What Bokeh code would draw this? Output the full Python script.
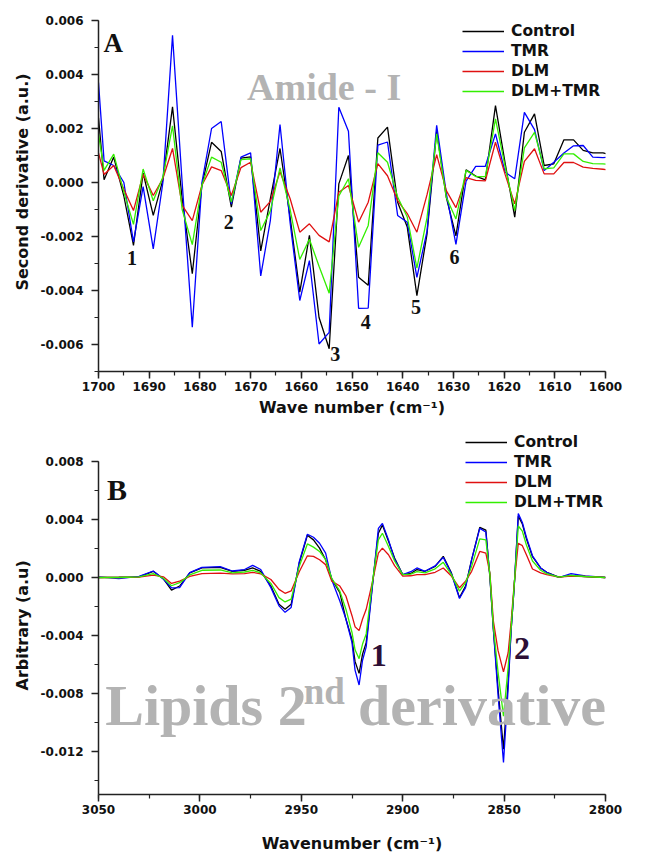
import numpy as np
from bokeh.plotting import figure
from bokeh.models import (Range1d, SingleIntervalTicker, PrintfTickFormatter, Label,
                          Legend, LegendItem, Title)
from bokeh.layouts import column
from bokeh.embed import file_html
from bokeh.resources import INLINE

# ---------------- data (values in units of 1e-3) ----------------
SCALE = 1e-3
series_names = ["Control", "TMR", "DLM", "DLM+TMR"]
series_colors = ["#000000", "#0000ff", "#e01010", "#33ee00"]

# Panel A: Amide-I second derivative
wave_a = [1700.0, 1698.9, 1697.0, 1695.0, 1693.1, 1691.2, 1689.2, 1687.3, 1685.4, 1683.5,
          1681.5, 1679.6, 1677.7, 1675.8, 1673.8, 1671.9, 1670.0, 1668.0, 1666.1, 1664.2,
          1662.2, 1660.3, 1658.4, 1656.5, 1654.5, 1652.6, 1650.7, 1648.7, 1646.8, 1644.9,
          1643.0, 1641.0, 1639.1, 1637.2, 1635.2, 1633.3, 1631.4, 1629.5, 1627.5, 1625.6,
          1623.7, 1621.7, 1619.8, 1617.9, 1616.0, 1614.0, 1612.1, 1610.2, 1608.2, 1606.3,
          1604.4, 1602.5, 1600.5, 1598.6]
control_a = [2.4, 0.1, 0.94, -0.5, -2.33, 0.35, -1.22, 0.1, 2.8, -0.6,
             -3.38, -0.1, 1.49, 1.15, -0.91, 0.9, 0.95, -2.53, -0.6, 1.26,
             -1.3, -4.06, -1.96, -5.0, -6.16, -0.05, 1.0, -3.51, -3.81, 1.65,
             2.05, -0.73, -1.65, -4.19, -1.9, 1.9, -0.55, -1.98, 0.47, 0.24,
             0.1, 2.85, 0.72, -1.28, 1.86, 2.54, 0.63, 0.69, 1.58, 1.58,
             1.19, 1.1, 1.1, 1.0]
tmr_a = [3.7, 0.8, 0.63, 0.0, -2.2, -0.15, -2.46, 0.0, 5.45, 0.0,
         -5.36, 0.0, 2.0, 2.26, -0.8, 0.94, 1.1, -3.46, -1.4, 2.15,
         -1.5, -4.37, -2.89, -5.98, -5.55, 2.79, 1.9, -4.66, -4.65, 1.38,
         1.5, -1.22, -1.47, -3.51, -1.8, 2.12, -0.4, -2.29, 0.05, 0.6,
         0.6, 1.8, 0.38, 0.14, 2.6, 1.96, 0.44, 0.75, 1.09, 1.36,
         1.37, 0.94, 0.92, 0.95]
dlm_a = [1.1, 0.3, 0.63, -0.25, -1.04, 0.3, -0.48, 0.15, 1.26, -0.85,
         -1.41, -0.1, 0.58, 0.44, -0.48, 0.55, 0.75, -1.1, -0.7, 0.4,
         -0.6, -1.84, -1.53, -1.96, -2.2, -0.36, -0.11, -1.47, -0.73, 0.7,
         0.25, -0.67, -1.15, -1.84, -0.45, 1.03, -0.3, -0.93, 0.18, 0.08,
         0.06, 1.49, 0.3, -0.79, 0.78, 1.25, 0.32, 0.32, 0.74, 0.74,
         0.57, 0.52, 0.49, 0.45]
dlm_tmr_a = [1.8, 0.45, 1.05, -0.35, -1.55, 0.5, -0.68, 0.2, 2.1, -1.0,
             -2.3, -0.1, 0.94, 0.75, -0.73, 0.85, 0.88, -1.78, -1.05, 0.54,
             -1.0, -2.85, -2.1, -3.1, -4.1, -0.5, 0.14, -2.4, -1.59, 1.1,
             0.75, -0.54, -1.28, -3.17, -1.3, 1.8, -0.55, -1.35, 0.45, 0.22,
             0.22, 2.36, 0.6, -1.04, 1.28, 1.86, 0.51, 0.54, 1.06, 1.06,
             0.78, 0.7, 0.69, 0.65]

# Panel B: lipids second derivative
wave_b = [3050, 3040, 3030, 3023, 3018, 3014, 3010, 3005, 2999, 2990,
          2984, 2978, 2974, 2970, 2965, 2961, 2958, 2955, 2951, 2947,
          2944, 2941, 2938, 2935, 2931, 2928, 2925, 2923.5, 2921.5, 2919.8,
          2918, 2915, 2912, 2910, 2907, 2904, 2900, 2896, 2893, 2889,
          2884, 2880, 2876, 2872, 2869, 2866, 2862, 2859, 2857, 2855.3,
          2853, 2850.3, 2848, 2846.5, 2845, 2843, 2841, 2839, 2836, 2832,
          2829, 2823, 2817, 2810, 2800]
control_b = [0.0, 0.02, 0.05, 0.43, -0.1, -0.87, -0.59, 0.32, 0.66, 0.7,
             0.43, 0.5, 0.66, 0.43, -0.59, -1.85, -2.19, -1.85, 1.0, 2.92,
             2.6, 2.03, 1.23, -0.1, -1.05, -2.87, -4.3, -5.8, -6.63, -5.3,
             -4.5, -0.6, 3.06, 3.62, 2.5, 1.35, 0.2, 0.28, 0.55, 0.43,
             0.77, 1.46, 0.32, -1.39, -0.59, 1.23, 3.47, 3.28, 0.0, -3.56,
             -7.66, -11.87, -7.2, -3.56, -0.6, 4.24, 3.7, 2.67, 1.44, 0.66,
             0.36, 0.02, 0.14, 0.07, 0.0]
tmr_b = [0.05, -0.08, 0.08, 0.45, -0.1, -0.72, -0.7, 0.34, 0.7, 0.75,
         0.45, 0.55, 0.84, 0.55, -0.7, -1.96, -2.41, -2.07, 1.1, 2.99,
         2.78, 2.37, 1.69, -0.15, -1.62, -2.87, -4.5, -6.4, -7.43, -5.72,
         -4.8, -0.7, 3.39, 3.74, 2.6, 1.25, 0.2, 0.4, 0.66, 0.43,
         0.8, 1.39, 0.28, -1.45, -0.7, 1.23, 3.4, 3.15, 0.1, -3.56,
         -8.1, -12.79, -7.66, -3.56, -0.6, 4.42, 3.8, 2.78, 1.5, 0.66,
         0.36, 0.0, 0.27, 0.11, 0.0]
dlm_b = [0.0, 0.0, 0.03, 0.16, 0.05, -0.41, -0.25, 0.07, 0.27, 0.3,
         0.25, 0.27, 0.36, 0.25, -0.14, -0.82, -1.09, -0.93, 0.4, 1.5,
         1.46, 1.23, 0.89, -0.25, -0.59, -1.28, -2.64, -3.4, -3.67, -2.87,
         -2.2, -0.35, 1.69, 2.03, 1.57, 0.82, 0.09, 0.12, 0.2, 0.2,
         0.36, 0.66, 0.1, -0.71, -0.25, 0.43, 1.8, 1.69, 0.3, -3.0,
         -5.04, -6.52, -5.2, -3.0, -0.4, 2.37, 2.2, 1.57, 0.59, 0.32,
         0.2, 0.02, 0.1, 0.07, 0.0]
dlm_tmr_b = [0.0, 0.0, 0.04, 0.27, -0.05, -0.57, -0.36, 0.18, 0.5, 0.52,
             0.32, 0.38, 0.5, 0.32, -0.41, -1.39, -1.69, -1.5, 0.77, 2.32,
             2.1, 1.8, 1.23, -0.05, -0.94, -2.19, -3.8, -5.0, -5.61, -4.6,
             -3.9, -0.4, 2.6, 3.06, 2.14, 1.14, 0.2, 0.24, 0.4, 0.32,
             0.6, 1.05, 0.2, -0.94, -0.36, 0.77, 2.67, 2.6, 0.2, -3.4,
             -6.52, -9.59, -6.2, -3.4, -0.5, 3.56, 3.2, 2.25, 1.14, 0.5,
             0.27, 0.02, 0.14, 0.07, 0.0]

peak_labels_a = ["1", "2", "3", "4", "5", "6"]
peak_x_a = [1693.4, 1674.3, 1653.3, 1647.3, 1637.4, 1629.8]
peak_y_a = [-2.81, -1.47, -6.34, -5.17, -4.62, -2.77]
peak_labels_b = ["1", "2"]
peak_x_b = [2911.8, 2841.2]
peak_y_b = [-5.38, -4.92]

SANS = "DejaVu Sans"
SERIF = "Liberation Serif"
GRAY = "#b3b3b3"
INK = "#111111"


def style_axes(p):
    for ax in (p.xaxis[0], p.yaxis[0]):
        ax.axis_line_width = 1.5
        ax.axis_line_color = "#222222"
        ax.major_tick_line_width = 1.5
        ax.major_tick_line_color = "#222222"
        ax.minor_tick_line_width = 1.2
        ax.minor_tick_line_color = "#222222"
        ax.major_tick_in = 0
        ax.major_tick_out = 7
        ax.minor_tick_in = 0
        ax.minor_tick_out = 4
        ax.major_label_text_font = SANS
        ax.major_label_text_font_style = "bold"
        ax.major_label_text_font_size = "12px"
        ax.major_label_text_color = INK
        ax.axis_label_text_font = SANS
        ax.axis_label_text_font_style = "bold"
        ax.axis_label_text_font_size = "16px"
        ax.axis_label_text_color = INK
    p.xaxis.major_label_standoff = 3
    p.yaxis.major_label_standoff = 8
    p.xgrid.visible = False
    p.ygrid.visible = False
    p.outline_line_color = None


def add_ylabel(p, text, offset, standoff):
    t = Title(text=text, align="left", offset=offset, standoff=standoff,
              text_font=SANS, text_font_style="bold", text_font_size="16px",
              text_color=INK)
    p.add_layout(t, "left")


def add_lines(p, xs, ys_list, loc):
    items = []
    for name, color, ys in zip(series_names, series_colors, ys_list):
        r = p.line(xs, list(np.array(ys) * SCALE), line_color=color, line_width=1.3)
        items.append(LegendItem(label=name, renderers=[r]))
    leg = Legend(items=items, location=loc, glyph_width=42, glyph_height=20,
                 label_height=20, spacing=0, padding=0, margin=0, label_standoff=7,
                 label_text_font=SANS, label_text_font_style="bold",
                 label_text_font_size="15.5px", label_text_color=INK,
                 border_line_color=None, background_fill_alpha=0)
    p.add_layout(leg)


# ---------------- panel A ----------------
p1 = figure(width=647, height=425, output_backend="svg", toolbar_location=None,
            x_range=Range1d(1700, 1600), y_range=Range1d(-0.007, 0.006),
            min_border_left=92, min_border_right=42, min_border_top=20, min_border_bottom=54,
            x_axis_label="Wave number (cm\u207b\u00b9)")
p1.xaxis.ticker = SingleIntervalTicker(interval=10, num_minor_ticks=2)
p1.yaxis.ticker = SingleIntervalTicker(interval=0.002, num_minor_ticks=2)
p1.yaxis.formatter = PrintfTickFormatter(format="%.3f")
style_axes(p1)
p1.xaxis.axis_label_standoff = 4
add_ylabel(p1, "Second derivative (a.u.)", 81, 12)
add_lines(p1, wave_a, [control_a, tmr_a, dlm_a, dlm_tmr_a], (364, 270))

p1.add_layout(Label(x=1699.0, y=5.15 * SCALE, text="A", text_font=SERIF,
                    text_font_style="bold", text_font_size="27px", text_color=INK,
                    text_baseline="alphabetic"))
p1.add_layout(Label(x=1655.5, y=3.52 * SCALE, text="Amide - I", text_font=SERIF,
                    text_font_style="bold", text_font_size="38px", text_color=GRAY,
                    text_align="center", text_baseline="alphabetic"))
for t, xx, yy in zip(peak_labels_a, peak_x_a, peak_y_a):
    p1.add_layout(Label(x=xx, y=yy * SCALE, text=t, text_font=SERIF, text_font_style="bold",
                        text_font_size="20px", text_color=INK,
                        text_align="center", text_baseline="middle"))

# ---------------- panel B ----------------
p2 = figure(width=647, height=430, output_backend="svg", toolbar_location=None,
            x_range=Range1d(3050, 2800), y_range=Range1d(-0.015, 0.0103),
            min_border_left=98, min_border_right=18, min_border_top=3, min_border_bottom=56,
            x_axis_label="Wavenumber (cm\u207b\u00b9)")
p2.xaxis.ticker = SingleIntervalTicker(interval=50, num_minor_ticks=2)
p2.yaxis.ticker = SingleIntervalTicker(interval=0.004, num_minor_ticks=2)
p2.yaxis.formatter = PrintfTickFormatter(format="%.3f")
p2.yaxis.bounds = (-0.015, 0.008)
style_axes(p2)
p2.xaxis.axis_label_standoff = 17
add_ylabel(p2, "Arbitrary (a.u)", 104, 12)

p2.add_layout(Label(x=3046.7, y=-8.87 * SCALE, text="Lipids 2", text_font=SERIF,
                    text_font_style="bold", text_font_size="58px", text_color=GRAY,
                    text_baseline="alphabetic"))
p2.add_layout(Label(x=2948.8, y=-7.85 * SCALE, text="nd", text_font=SERIF,
                    text_font_style="bold", text_font_size="37px", text_color=GRAY,
                    text_baseline="alphabetic"))
p2.add_layout(Label(x=2922.0, y=-8.87 * SCALE, text="derivative", text_font=SERIF,
                    text_font_style="bold", text_font_size="58px", text_color=GRAY,
                    text_baseline="alphabetic"))

add_lines(p2, wave_b, [control_b, tmr_b, dlm_b, dlm_tmr_b], (367, 282))

p2.add_layout(Label(x=3045.8, y=6.08 * SCALE, text="B", text_font=SERIF,
                    text_font_style="bold", text_font_size="30px", text_color=INK,
                    text_baseline="alphabetic"))
for t, xx, yy in zip(peak_labels_b, peak_x_b, peak_y_b):
    p2.add_layout(Label(x=xx, y=yy * SCALE, text=t, text_font=SERIF, text_font_style="bold",
                        text_font_size="32px", text_color="#2d0f35",
                        text_align="center", text_baseline="middle"))

layout = column(p1, p2, spacing=0)
open("out.html", "w").write(file_html(layout, INLINE))
